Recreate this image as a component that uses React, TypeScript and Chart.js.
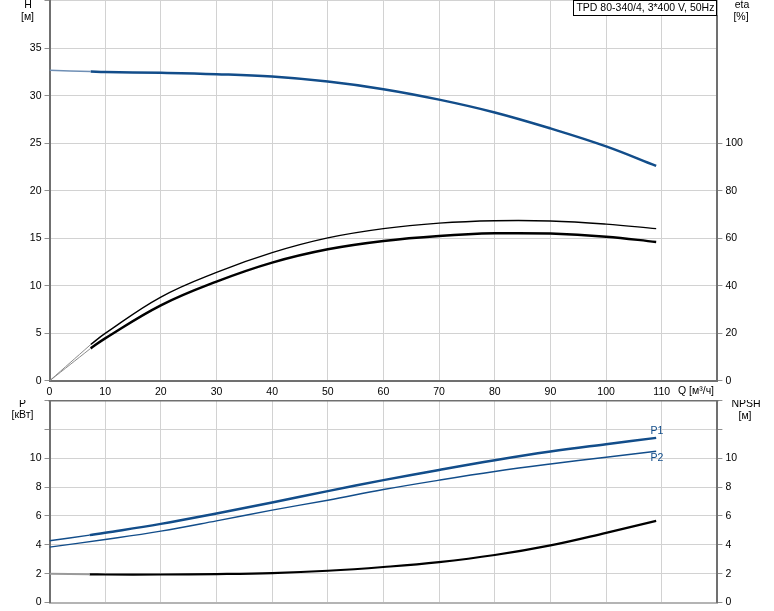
import React, { useEffect, useRef } from 'react';
import { Chart, registerables } from 'chart.js';

Chart.register(...registerables);

const FONT = "'Liberation Sans', Arial, sans-serif";
const FS = 10.5;

// ---- top panel data (Q in m3/h) ----
const Q_H_START = [0, 7.4];
const H_START = [32.7, 32.55];
const Q_H = [7.4, 10, 20, 30, 40, 50, 60, 70, 80, 90, 100, 109];
const H_VALUES = [32.55, 32.5, 32.42, 32.28, 32.03, 31.5, 30.7, 29.6, 28.25, 26.57, 24.68, 22.62];

const Q_ETA_START = [0, 7.4];
const ETA1_START = [0, 15.3];
const ETA2_START = [0, 13.7];
const Q_ETA = [7.4, 10, 20, 30, 40, 50, 60, 70, 80, 90, 100, 109];
const ETA1 = [15.3, 20, 35.3, 45.7, 54, 60.2, 64.1, 66.4, 67.4, 67.3, 66.0, 64.1];
const ETA2 = [13.7, 17.9, 31.8, 41.8, 49.8, 55.4, 58.9, 61.0, 62.1, 62.0, 60.7, 58.5];

// ---- bottom panel data ----
const Q_P_START = [0, 7.2];
const P1_START = [4.28, 4.67];
const Q_P = [7.2, 10, 20, 30, 40, 50, 60, 70, 80, 90, 100, 109];
const P1 = [4.67, 4.83, 5.45, 6.17, 6.93, 7.72, 8.48, 9.19, 9.86, 10.46, 10.97, 11.41];
const Q_P2 = [0, 10, 20, 30, 40, 50, 60, 70, 80, 90, 100, 109];
const P2 = [3.84, 4.37, 4.95, 5.66, 6.4, 7.09, 7.83, 8.48, 9.08, 9.6, 10.07, 10.48];
const Q_NPSH_START = [0, 7.2];
const NPSH_START = [2.0, 1.95];
const Q_NPSH = [7.2, 10, 20, 30, 40, 50, 60, 70, 80, 90, 100, 109];
const NPSH = [1.95, 1.94, 1.94, 1.97, 2.04, 2.2, 2.46, 2.8, 3.29, 3.96, 4.83, 5.66];

// ---- axes / texts ----
const Q_MAX = 120;
const Q_STEP = 10;
const Q_LAST_LABEL = 110;
const H_MAX = 40;
const H_STEP = 5;
const H_LAST_LABEL = 35;
const ETA_MAX = 160;
const ETA_STEP = 20;
const ETA_LAST_LABEL = 100;
const P_MAX = 14;
const P_STEP = 2;
const P_LAST_LABEL = 10;
const TITLE = 'TPD 80-340/4, 3*400 V, 50Hz';

const BLUE = '#124d8a';
const GRID = '#d2d2d2';
const AXIS = '#707070';

const pts = (xs: number[], ys: number[]) => xs.map((x, i) => ({ x, y: ys[i] }));

const line = (data: any, color: string, width: number, yAxisID: string) => ({
  data,
  borderColor: color,
  borderWidth: width,
  pointRadius: 0,
  fill: false,
  tension: 0.4,
  yAxisID,
});

const tickFont = { family: FONT, size: FS };

function noPad(s: any) {
  s.paddingTop = 0;
  s.paddingBottom = 0;
  s.paddingLeft = 0;
  s.paddingRight = 0;
}
function fixedWidth(w: number) {
  return (s: any) => {
    s.width = w;
    noPad(s);
  };
}
function fixedHeight(h: number) {
  return (s: any) => {
    s.height = h;
    noPad(s);
  };
}

type Txt = { t: string; x: number; y: number; align?: CanvasTextAlign; color?: string };

function textPlugin(texts: Txt[], extra?: (ctx: CanvasRenderingContext2D, chart: any) => void) {
  return {
    id: 'texts',
    afterDraw(chart: any) {
      const ctx: CanvasRenderingContext2D = chart.ctx;
      ctx.save();
      ctx.font = `${FS}px ${FONT}`;
      ctx.textBaseline = 'middle';
      for (const t of texts) {
        ctx.fillStyle = t.color || '#000';
        ctx.textAlign = t.align || 'center';
        ctx.fillText(t.t, t.x, t.y);
      }
      if (extra) extra(ctx, chart);
      ctx.restore();
    },
  };
}

const LEFT_W = 49.5;
const RIGHT_W = 774 - 717.4;

function TopChart() {
  const ref = useRef<HTMLCanvasElement>(null);
  useEffect(() => {
    const chart = new Chart(ref.current!, {
      type: 'line',
      data: {
        datasets: [
          line(pts(Q_ETA_START, ETA1_START), '#8a8a8a', 1, 'eta'),
          line(pts(Q_ETA_START, ETA2_START), '#8a8a8a', 1, 'eta'),
          line(pts(Q_ETA, ETA1), '#000', 1.4, 'eta'),
          line(pts(Q_ETA, ETA2), '#000', 2.5, 'eta'),
          line(pts(Q_H_START, H_START), '#6f8fb5', 1.5, 'h'),
          line(pts(Q_H, H_VALUES), BLUE, 2.5, 'h'),
        ] as any,
      },
      options: {
        animation: false,
        responsive: false,
        devicePixelRatio: 1,
        layout: { padding: { top: 0.8, left: 0, right: 0, bottom: 0 } },
        plugins: { legend: { display: false }, tooltip: { enabled: false }, title: { display: false } },
        scales: {
          x: {
            type: 'linear',
            min: 0,
            max: Q_MAX,
            afterFit: fixedHeight(400 - 380.9),
            border: { color: AXIS, width: 2 },
            grid: { color: GRID, tickLength: 3, tickColor: 'rgba(0,0,0,0)' },
            ticks: {
              stepSize: Q_STEP,
              padding: 2,
              maxRotation: 0,
              autoSkip: false,
              color: '#000',
              font: tickFont,
              callback: (v: any) => (v <= Q_LAST_LABEL ? String(v) : ''),
            },
          },
          h: {
            type: 'linear',
            position: 'left',
            min: 0,
            max: H_MAX,
            afterFit: fixedWidth(LEFT_W),
            border: { color: AXIS, width: 2 },
            grid: { color: GRID, tickLength: 5, tickColor: '#909090' },
            ticks: {
              stepSize: H_STEP,
              padding: 3,
              color: '#000',
              font: tickFont,
              callback: (v: any) => (v <= H_LAST_LABEL ? String(v) : ''),
            },
          },
          eta: {
            type: 'linear',
            position: 'right',
            min: 0,
            max: ETA_MAX,
            afterFit: fixedWidth(RIGHT_W),
            afterBuildTicks: (s: any) => {
              s.ticks = s.ticks.filter((t: any) => t.value <= ETA_LAST_LABEL);
            },
            border: { color: AXIS, width: 2 },
            grid: { drawOnChartArea: false, tickLength: 5, tickColor: '#909090' },
            ticks: { stepSize: ETA_STEP, padding: 3, color: '#000', font: tickFont },
          },
        },
      } as any,
      plugins: [
        textPlugin(
          [
            { t: 'H', x: 28, y: 5 },
            { t: '[м]', x: 27.5, y: 17 },
            { t: 'eta', x: 742, y: 5 },
            { t: '[%]', x: 741, y: 17 },
            { t: 'Q [м³/ч]', x: 678, y: 391, align: 'left' },
          ],
          (ctx) => {
            ctx.font = `${FS}px ${FONT}`;
            const w = ctx.measureText(TITLE).width;
            const right = 717.4;
            const left = right - w - 6;
            ctx.fillStyle = '#fff';
            ctx.fillRect(left, 0, right - left, 15);
            ctx.strokeStyle = '#000';
            ctx.lineWidth = 1;
            ctx.strokeRect(Math.round(left) + 0.5, 0.5, Math.round(right - left) - 1, 15);
            ctx.fillStyle = '#000';
            ctx.textAlign = 'left';
            ctx.textBaseline = 'middle';
            ctx.fillText(TITLE, left + 3, 8);
          }
        ),
      ],
    });
    return () => chart.destroy();
  }, []);
  return <canvas ref={ref} width={774} height={400} style={{ display: 'block' }} />;
}

function BottomChart() {
  const ref = useRef<HTMLCanvasElement>(null);
  useEffect(() => {
    const chart = new Chart(ref.current!, {
      type: 'line',
      data: {
        datasets: [
          line(pts(Q_NPSH_START, NPSH_START), '#9a9a9a', 2, 'npsh'),
          line(pts(Q_NPSH, NPSH), '#000', 2.2, 'npsh'),
          line(pts(Q_P2, P2), BLUE, 1.4, 'p'),
          line(pts(Q_P_START, P1_START), BLUE, 1.5, 'p'),
          line(pts(Q_P, P1), BLUE, 2.5, 'p'),
        ] as any,
      },
      options: {
        animation: false,
        responsive: false,
        devicePixelRatio: 1,
        layout: { padding: { top: 0.5, left: 0, right: 0, bottom: 0 } },
        plugins: { legend: { display: false }, tooltip: { enabled: false }, title: { display: false } },
        scales: {
          x: {
            type: 'linear',
            min: 0,
            max: Q_MAX,
            afterFit: fixedHeight(211 - 202.5),
            border: { color: '#b4b4b4', width: 2 },
            grid: { color: GRID, drawTicks: false },
            ticks: { stepSize: Q_STEP, display: false, autoSkip: false },
          },
          p: {
            type: 'linear',
            position: 'left',
            min: 0,
            max: P_MAX,
            afterFit: fixedWidth(LEFT_W),
            border: { color: AXIS, width: 2 },
            grid: { color: GRID, tickLength: 5, tickColor: '#909090' },
            ticks: {
              stepSize: P_STEP,
              padding: 3,
              color: '#000',
              font: tickFont,
              callback: (v: any) => (v <= P_LAST_LABEL ? String(v) : ''),
            },
          },
          npsh: {
            type: 'linear',
            position: 'right',
            min: 0,
            max: P_MAX,
            afterFit: fixedWidth(RIGHT_W),
            border: { color: AXIS, width: 2 },
            grid: { drawOnChartArea: false, tickLength: 5, tickColor: '#909090' },
            ticks: {
              stepSize: P_STEP,
              padding: 3,
              color: '#000',
              font: tickFont,
              callback: (v: any) => (v <= P_LAST_LABEL ? String(v) : ''),
            },
          },
        },
      } as any,
      plugins: [
        textPlugin(
          [
            { t: 'P', x: 22.5, y: 4.5 },
            { t: '[кВт]', x: 22.5, y: 15.5 },
            { t: 'NPSH', x: 746, y: 4.5 },
            { t: '[м]', x: 745, y: 16.5 },
            { t: 'P1', x: 657, y: 31.5, color: BLUE },
            { t: 'P2', x: 657, y: 58.5, color: BLUE },
          ],
          (ctx, ch) => {
            const a = ch.chartArea;
            ctx.strokeStyle = AXIS;
            ctx.lineWidth = 2;
            ctx.beginPath();
            ctx.moveTo(a.left - 1, a.top);
            ctx.lineTo(a.right + 1, a.top);
            ctx.stroke();
          }
        ),
      ],
    });
    return () => chart.destroy();
  }, []);
  return <canvas ref={ref} width={774} height={211} style={{ display: 'block' }} />;
}

export default function App() {
  return (
    <div style={{ position: 'absolute', left: 0, top: 0, width: 774, height: 611, background: '#fff' }}>
      <TopChart />
      <BottomChart />
    </div>
  );
}
